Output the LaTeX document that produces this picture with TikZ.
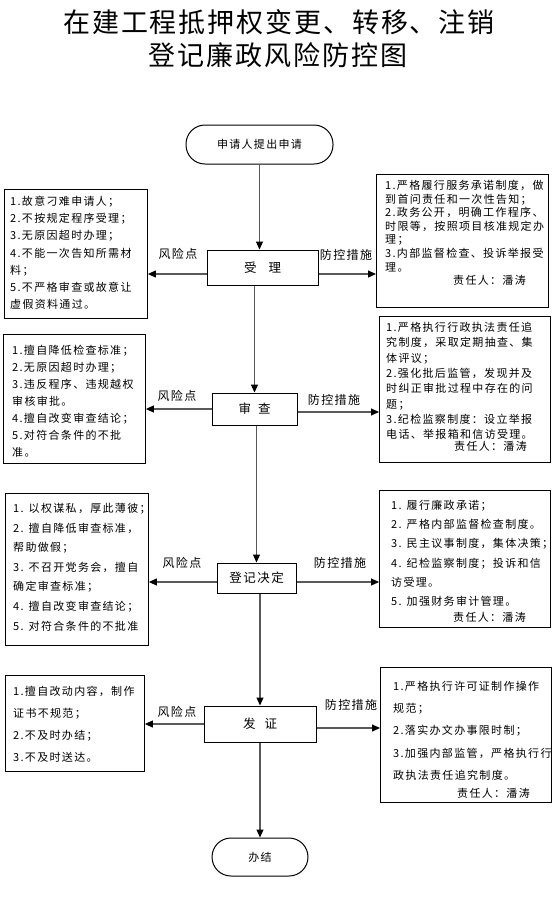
\documentclass[tikz,border=0pt]{standalone}
\usepackage{fontspec}
\newfontfamily\cjk[LetterSpace=12]{Noto Sans CJK SC}
\newfontfamily\cjktitle[LetterSpace=7]{Noto Sans CJK SC}
\newfontfamily\cjkflow[LetterSpace=12]{Noto Sans CJK SC}
\usetikzlibrary{arrows.meta}
\begin{document}
\begin{tikzpicture}[x=1pt,y=-1pt,
  box/.style={draw=black, line width=0.9pt, inner sep=0pt, anchor=north west},
  txt/.style={anchor=north west, inner sep=0pt, align=left},
  flow/.style={draw=black, line width=1pt, inner sep=0pt, font=\cjkflow\fontsize{12.5}{14}\selectfont},
  term/.style={flow, font=\cjk\fontsize{11}{13}\selectfont},
  lab/.style={inner sep=0pt, font=\cjk\fontsize{12}{14}\selectfont},
  arr/.style={draw=gray!70!black, line width=1.1pt, -{Triangle[length=8pt,width=7pt,color=black]}},
]
\useasboundingbox (0,0) rectangle (555,903);
\fill[white] (0,0) rectangle (555,903);

% title
\node[font=\cjktitle\fontsize{27}{33}\selectfont, inner sep=0pt] (t1) at (279,22) {在建工程抵押权变更、转移、注销};
\node[font=\cjktitle\fontsize{27}{33}\selectfont, inner sep=0pt] (t2) at (278,55) {登记廉政风险防控图};

% flow nodes
\node[term, minimum width=147pt, minimum height=39pt, rounded corners=19pt] (s) at (259.5,144.5) {申请人提出申请};
\node[flow, minimum width=111pt, minimum height=35pt] (sl) at (262.5,267.5) {受\hspace{12pt}理};
\node[flow, minimum width=85pt, minimum height=32pt] (sc) at (254.5,409) {审\hspace{7pt}查};
\node[flow, minimum width=79pt, minimum height=30pt] (dj) at (256.5,578) {登记决定};
\node[flow, minimum width=112pt, minimum height=36pt] (fz) at (260,724) {发\hspace{9pt}证};
\node[term, minimum width=96pt, minimum height=38pt, rounded corners=19pt] (bj) at (260,857) {办结};

% side boxes
\node[box, minimum width=143pt, minimum height=129pt] (l1) at (4,189) {};
\node[txt, font=\cjk\fontsize{11}{17.2}\selectfont] (l1t) at (10,196) {1.故意刁难申请人；\\2.不按规定程序受理；\\3.无原因超时办理；\\4.不能一次告知所需材\\料；\\5.不严格审查或故意让\\虚假资料通过。};

\node[box, minimum width=172pt, minimum height=133pt] (r1) at (376,174) {};
\node[txt, font=\cjk\fontsize{11}{13.6}\selectfont] (r1t) at (385,180) {1.严格履行服务承诺制度，做\\到首问责任和一次性告知；\\2.政务公开，明确工作程序、\\时限等，按照项目核准规定办\\理；\\3.内部监督检查、投诉举报受\\理。\\\hspace*{68pt}责任人：潘涛};

\node[box, minimum width=142pt, minimum height=129pt] (l2) at (3,334) {};
\node[txt, font=\cjk\fontsize{11}{17}\selectfont] (l2t) at (12,345) {1.擅自降低检查标准；\\2.无原因超时办理；\\3.违反程序、违规越权\\审核审批。\\4.擅自改变审查结论；\\5.对符合条件的不批\\准。};

\node[box, minimum width=171pt, minimum height=146pt] (r2) at (379,316) {};
\node[txt, font=\cjk\fontsize{11}{15.3}\selectfont] (r2t) at (386,322) {1.严格执行行政执法责任追\\究制度，采取定期抽查、集\\体评议；\\2.强化批后监管，发现并及\\时纠正审批过程中存在的问\\题；\\3.纪检监察制度：设立举报\\电话、举报箱和信访受理。\\[-3pt]\hspace*{68pt}责任人：潘涛};

\node[box, minimum width=143pt, minimum height=152pt] (l3) at (5,493) {};
\node[txt, font=\cjk\fontsize{11}{19.6}\selectfont] (l3t) at (13,503) {1. 以权谋私，厚此薄彼；\\2. 擅自降低审查标准，\\帮助做假；\\3. 不召开党务会，擅自\\确定审查标准；\\4. 擅自改变审查结论；\\5. 对符合条件的不批准};

\node[box, minimum width=171pt, minimum height=137pt] (r3) at (379,490) {};
\node[txt, font=\cjk\fontsize{11}{19.2}\selectfont] (r3t) at (391,500) {1. 履行廉政承诺；\\2. 严格内部监督检查制度。\\3. 民主议事制度，集体决策；\\4. 纪检监察制度；投诉和信\\访受理。\\5. 加强财务审计管理。\\[-3pt]\hspace*{62pt}责任人：潘涛};

\node[box, minimum width=139pt, minimum height=96pt] (l4) at (5,675) {};
\node[txt, font=\cjk\fontsize{11}{22}\selectfont] (l4t) at (13,686) {1.擅自改动内容，制作\\证书不规范；\\2.不及时办结；\\3.不及时送达。};

\node[box, minimum width=171pt, minimum height=135pt] (r4) at (380,667) {};
\node[txt, font=\cjk\fontsize{11}{22.2}\selectfont] (r4t) at (393,681) {1.严格执行许可证制作操作\\规范；\\2.落实办文办事限时制；\\3.加强内部监管，严格执行行\\政执法责任追究制度。\\[-4pt]\hspace*{64pt}责任人：潘涛};

% labels
\node[lab] (rk1) at (178,254) {风险点};
\node[lab] (fk1) at (346,255) {防控措施};
\node[lab] (rk2) at (177,396) {风险点};
\node[lab] (fk2) at (334,400) {防控措施};
\node[lab] (rk3) at (182,563) {风险点};
\node[lab] (fk3) at (340,563) {防控措施};
\node[lab] (rk4) at (177,712) {风险点};
\node[lab] (fk4) at (351,705) {防控措施};

% vertical connectors
\draw[arr] (s.south) -- (s.south |- sl.north);
\draw[arr] (sc.north |- sl.south) -- (sc.north);
\draw[arr] (dj.north |- sc.south) -- (dj.north);
\draw[arr] (fz.north |- dj.south) -- (fz.north);
\draw[arr] (fz.south -| bj.north) -- (bj.north);

% horizontal connectors
\coordinate (ya) at (0,274);
\coordinate (yb) at (0,409);
\coordinate (yc) at (0,412);
\coordinate (yd) at (0,582);
\coordinate (ye) at (0,724);
\coordinate (yf) at (0,728);
\draw[arr] (sl.west |- ya) -- (l1.east |- ya);
\draw[arr] (sl.east |- ya) -- (r1.west |- ya);
\draw[arr] (sc.west |- yb) -- (l2.east |- yb);
\draw[arr] (sc.east |- yc) -- (r2.west |- yc);
\draw[arr] (dj.west |- yd) -- (l3.east |- yd);
\draw[arr] (dj.east |- yd) -- (r3.west |- yd);
\draw[arr] (fz.west |- ye) -- (l4.east |- ye);
\draw[arr] (fz.east |- yf) -- (r4.west |- yf);
\end{tikzpicture}
\end{document}
